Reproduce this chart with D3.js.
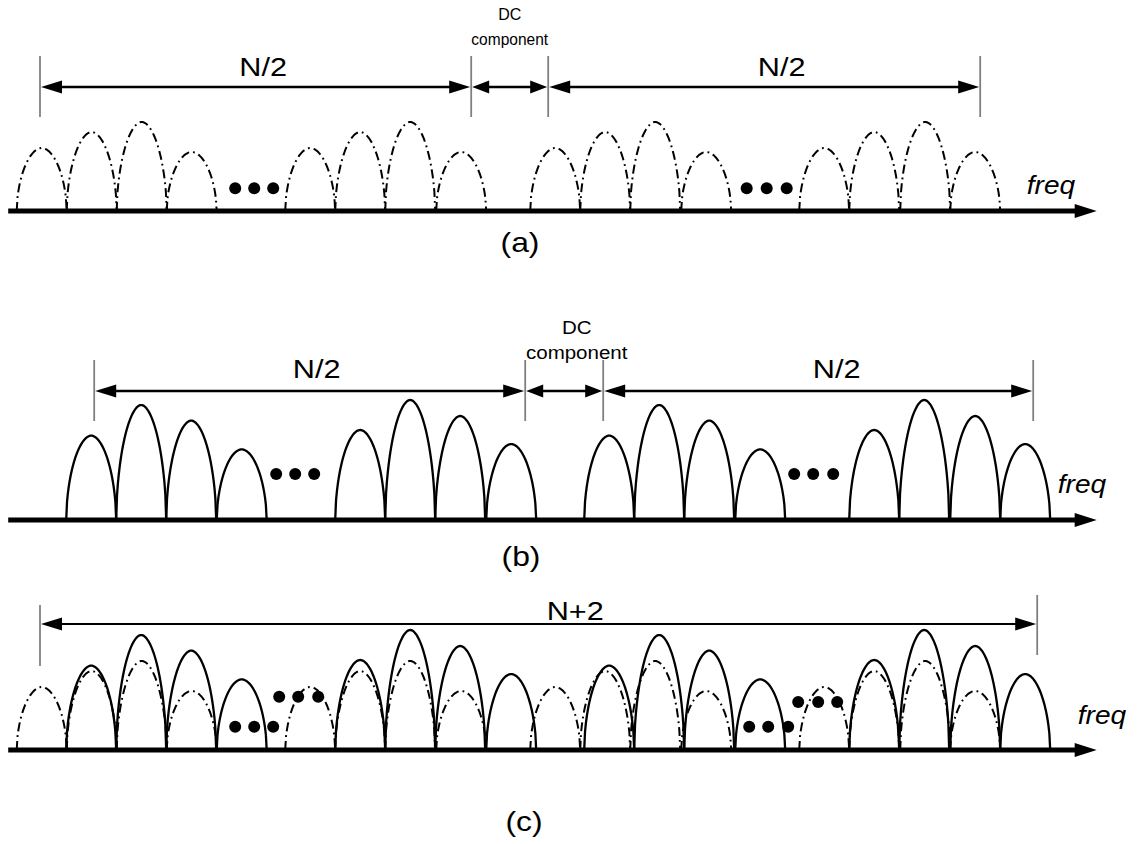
<!DOCTYPE html>
<html>
<head>
<meta charset="utf-8">
<script src="https://cdn.jsdelivr.net/npm/d3@7"></script>
<style>
  html, body { margin: 0; padding: 0; background: #fff; }
  svg { display: block; }
  text { font-family: "Liberation Sans", Arial, Helvetica, sans-serif; fill: #000; }
</style>
</head>
<body>
<svg id="fig" width="1139" height="844"></svg>
<script>
// ---- Spectrum data (frequency in subcarrier spacings, amplitude normalised) ----
// Left edge of each sub-carrier lobe; every lobe is one spacing wide.
const dashedLobeStarts = [0, 1, 2, 3, 5.37, 6.37, 7.37, 8.39, 10.27, 11.27, 12.27, 13.29, 15.65, 16.65, 17.67, 18.67];
const dashedLobeAmps   = [0.525, 0.658, 0.742, 0.492, 0.525, 0.658, 0.742, 0.492,
                          0.525, 0.658, 0.742, 0.492, 0.525, 0.658, 0.742, 0.492];
const solidLobeStarts  = [0.99, 1.99, 2.99, 4.0, 6.37, 7.37, 8.37, 9.39, 11.35, 12.35, 13.35, 14.37, 16.65, 17.65, 18.67, 19.67];
const solidLobeAmps    = [0.703, 0.958, 0.828, 0.589, 0.75, 1.0, 0.867, 0.633,
                          0.703, 0.958, 0.828, 0.589, 0.75, 1.0, 0.867, 0.633];
const lobeWidth = 1;

// Ellipsis dots: frequency and height of each dot
const dotsA       = [{f: 4.37, a: 0.19}, {f: 4.75, a: 0.19}, {f: 5.13, a: 0.19},
                     {f: 14.6, a: 0.19}, {f: 15.0, a: 0.19}, {f: 15.4, a: 0.19}];
const dotsB       = [{f: 5.19, a: 0.383}, {f: 5.57, a: 0.383}, {f: 5.95, a: 0.383},
                     {f: 15.55, a: 0.383}, {f: 15.93, a: 0.383}, {f: 16.33, a: 0.383}];
const dotsCSolid  = [{f: 4.37, a: 0.194}, {f: 4.75, a: 0.194}, {f: 5.13, a: 0.194},
                     {f: 14.65, a: 0.194}, {f: 15.03, a: 0.194}, {f: 15.43, a: 0.194}];
const dotsCDashed = [{f: 5.25, a: 0.444}, {f: 5.63, a: 0.444}, {f: 6.03, a: 0.444},
                     {f: 15.63, a: 0.40}, {f: 16.03, a: 0.40}, {f: 16.41, a: 0.40}];

// Bandwidth annotations: span ends, label text and label centre
const spansA = [
  {from: 0.466, to: 9.09,  label: "N/2", at: 4.93},
  {from: 9.09,  to: 10.63, label: null},
  {from: 10.63, to: 19.27, label: "N/2", at: 15.3}
];
const spansB = [
  {from: 1.55,  to: 10.17, label: "N/2", at: 6.0},
  {from: 10.17, to: 11.73, label: null},
  {from: 11.73, to: 20.33, label: "N/2", at: 16.4}
];
const spansC = [
  {from: 0.466, to: 20.41, label: "N+2", at: 11.17}
];
const dcLabel = ["DC", "component"];
const axisLabel = "freq";
const panelLabels = ["(a)", "(b)", "(c)"];
const axisRange = [-0.17, 21.6];

// ---- Scales ----
const svg = d3.select("#fig");
const x = d3.scaleLinear().domain([0, 1]).range([16.7, 66.7]);
const ampScale = (base) => d3.scaleLinear().domain([0, 1]).range([base, base - 120]);

const STRETCH = 1.18;   // letterforms are drawn slightly wide

function lobePath(y, start, amp) {
  const pts = d3.range(0, 61).map(i => {
    const t = -1 + 2 * i / 60;
    const h = amp * Math.pow(Math.max(0, 1 - Math.pow(Math.abs(t), 1.9)), 0.55);
    return [start + (t + 1) / 2 * lobeWidth, h];
  });
  return d3.line().x(d => x(d[0])).y(d => y(d[1]))(pts);
}

function drawLobes(g, y, starts, amps, dashed) {
  g.selectAll(null).data(starts).enter().append("path")
    .attr("d", (s, i) => lobePath(y, s, amps[i]))
    .attr("fill", "none")
    .attr("stroke", "#000")
    .attr("stroke-width", dashed ? 2 : 2.3)
    .attr("stroke-dasharray", dashed ? "9,4,1.8,4" : null);
}

function drawDots(g, y, dots) {
  g.selectAll(null).data(dots).enter().append("circle")
    .attr("cx", d => x(d.f)).attr("cy", d => y(d.a)).attr("r", 6).attr("fill", "#000");
}

function drawAxis(g, base) {
  const x0 = x(axisRange[0]), x1 = x(axisRange[1]);
  g.append("line").attr("x1", x0).attr("x2", x1 - 18).attr("y1", base).attr("y2", base)
    .attr("stroke", "#000").attr("stroke-width", 5);
  g.append("path")
    .attr("d", `M${x1},${base} L${x1 - 22},${base - 7} L${x1 - 22},${base + 7} Z`)
    .attr("fill", "#000");
}

function arrowHead(g, tipX, yy, dir, len, half) {
  g.append("path")
    .attr("d", `M${tipX},${yy} L${tipX - dir * len},${yy - half} L${tipX - dir * len},${yy + half} Z`)
    .attr("fill", "#000");
}

function drawText(g, txt, cx, by, size, sx, italic) {
  g.append("text")
    .attr("transform", `translate(${cx},${by}) scale(${sx},1)`)
    .attr("text-anchor", "middle").attr("font-size", size)
    .attr("font-style", italic ? "italic" : null).text(txt);
}

function drawSpans(g, spans, lineY, tickTop, tickBot, lw, labelY, tickTopRight) {
  const ends = new Set();
  spans.forEach(s => { ends.add(s.from); ends.add(s.to); });
  const endList = Array.from(ends);
  endList.forEach((e, i) => {
    const last = i === endList.length - 1 && tickTopRight != null;
    g.append("line").attr("x1", x(e)).attr("x2", x(e))
      .attr("y1", last ? tickTopRight : tickTop)
      .attr("y2", last ? tickBot - 11 : tickBot)
      .attr("stroke", "#808080").attr("stroke-width", 1.8);
  });
  spans.forEach(s => {
    const a = x(s.from) + 1, b = x(s.to) - 1;
    const len = s.label ? 21 : 17;
    g.append("line").attr("x1", a + len - 2).attr("x2", b - len + 2)
      .attr("y1", lineY).attr("y2", lineY).attr("stroke", "#000").attr("stroke-width", lw);
    arrowHead(g, a, lineY, -1, len, 6.5);
    arrowHead(g, b, lineY, 1, len, 6.5);
    if (s.label) drawText(g, s.label, x(s.at), labelY, 26, STRETCH);
  });
}

// ---- Panel (a): dashed spectrum ----
{
  const base = 211, y = ampScale(base), g = svg.append("g");
  drawLobes(g, y, dashedLobeStarts, dashedLobeAmps, true);
  drawDots(g, y, dotsA);
  drawAxis(g, base);
  drawSpans(g, spansA, 87, 56, 117, 2.6, 76);
  drawText(g, dcLabel[0], x(9.86), 20, 16, 1.0);
  drawText(g, dcLabel[1], x(9.86), 45, 16, 0.97);
  drawText(g, axisLabel, 1051, 194, 26, 1.08, true);
  drawText(g, panelLabels[0], 520, 252, 27, STRETCH);
}

// ---- Panel (b): solid spectrum ----
{
  const base = 520, y = ampScale(base), g = svg.append("g");
  drawLobes(g, y, solidLobeStarts, solidLobeAmps, false);
  drawDots(g, y, dotsB);
  drawAxis(g, base);
  drawSpans(g, spansB, 391, 360, 421, 2.6, 378);
  drawText(g, dcLabel[0], x(11.2), 334, 19, 1.08);
  drawText(g, dcLabel[1], x(11.2), 359, 19, 1.08);
  drawText(g, axisLabel, 1082, 493, 26, 1.08, true);
  drawText(g, panelLabels[1], 521, 566, 27, STRETCH);
}

// ---- Panel (c): both spectra overlaid ----
{
  const base = 750, y = ampScale(base), g = svg.append("g");
  drawLobes(g, y, dashedLobeStarts, dashedLobeAmps, true);
  drawLobes(g, y, solidLobeStarts, solidLobeAmps, false);
  drawDots(g, y, dotsCSolid);
  drawDots(g, y, dotsCDashed);
  drawAxis(g, base);
  drawSpans(g, spansC, 624, 605, 666, 2, 620, 595);
  drawText(g, axisLabel, 1102, 724, 26, 1.08, true);
  drawText(g, panelLabels[2], 524, 831, 27, STRETCH);
}
</script>
</body>
</html>
